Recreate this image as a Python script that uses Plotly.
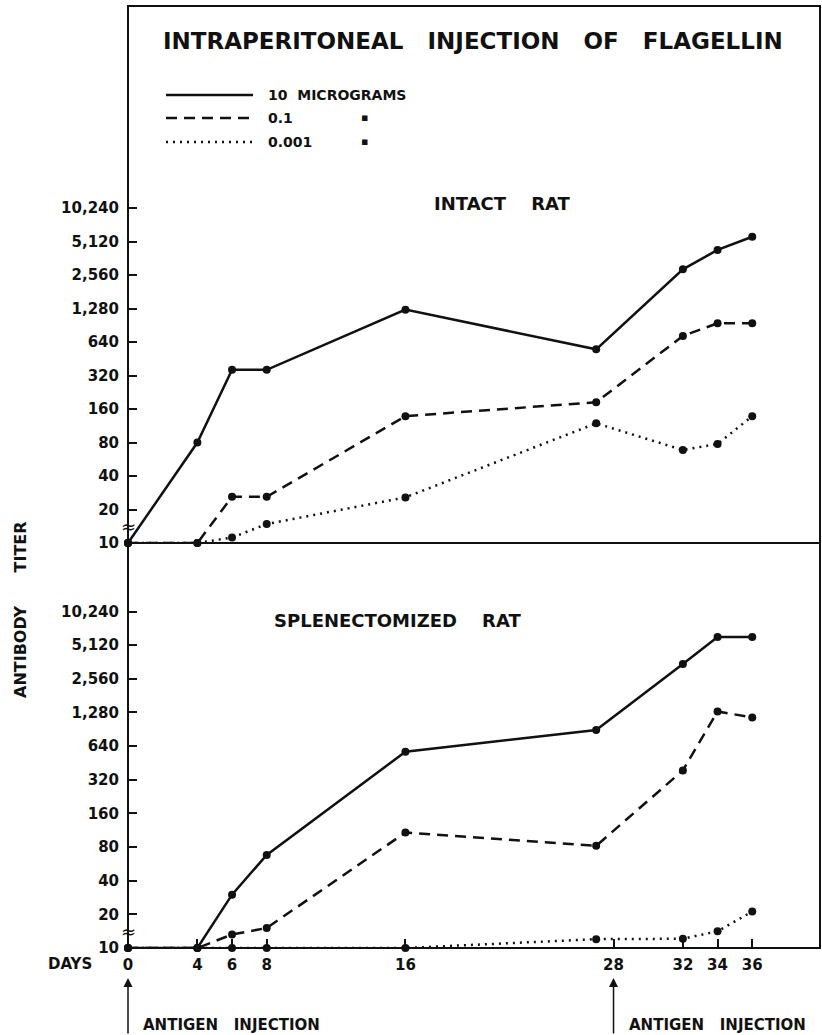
import plotly.graph_objects as go

# ---------------- data ----------------
days = [0, 4, 6, 8, 16, 27, 32, 34, 36]

intact_10ug = [10, 80, 360, 360, 1250, 550, 2880, 4300, 5650]
intact_01ug = [10, 10, 26, 26, 138, 184, 725, 943, 943]
intact_0001ug = [10, 10, 11.2, 14.8, 25.7, 119, 68.5, 77.6, 138]

splen_10ug = [10, 10, 30, 68, 570, 893, 3470, 6050, 6050]
splen_01ug = [10, 10, 13.2, 15.1, 108, 82, 388, 1307, 1155]
splen_0001ug = [10, 10, 10, 10, 10, 12.0, 12.1, 14.1, 21.2]

y_tickvals = [10, 20, 40, 80, 160, 320, 640, 1280, 2560, 5120, 10240]
y_ticktext = ["10", "20", "40", "80", "160", "320", "640", "1,280", "2,560", "5,120", "10,240"]
x_tickvals = [0, 4, 6, 8, 16, 28, 32, 34, 36]
x_ticktext = ["0", "4", "6", "8", "16", "28", "32", "34", "36"]

dose_labels = ["10  MICROGRAMS", "0.1", "0.001"]
injection_days = [0, 28]

# ---------------- styling ----------------
W, H = 822, 1035
L, R, T, B = 128, 2, 6, 87
PW, PH = W - L - R, H - T - B
SPLIT = 405 / PH            # paper fraction of lower panel
FONT = "DejaVu Sans"
BLACK = "#111111"
dashes = ["solid", "11px,7px", "2px,5px"]
NB = "\u00a0"

fig = go.Figure()

panels = [
    ("x2", "y2", [intact_10ug, intact_01ug, intact_0001ug]),
    ("x", "y", [splen_10ug, splen_01ug, splen_0001ug]),
]
for xa, ya, series in panels:
    for vals, dash, name in zip(series, dashes, dose_labels):
        fig.add_trace(go.Scatter(
            x=days, y=vals, xaxis=xa, yaxis=ya, name=name,
            mode="lines+markers",
            line=dict(color=BLACK, width=2.5, dash=dash),
            marker=dict(color=BLACK, size=8, symbol="circle"),
            cliponaxis=False, showlegend=False,
        ))

def px_x(px):
    return (px - L) / PW

def px_y(px):
    return (H - B - px) / PH

xmax = PW / 17.34
axis_common = dict(showgrid=False, zeroline=False, showline=False)
tickfont = dict(size=15, family=FONT, color=BLACK, weight="bold")

fig.update_layout(
    width=W, height=H,
    margin=dict(l=L, r=R, t=T, b=B),
    paper_bgcolor="white", plot_bgcolor="white",
    font=dict(family=FONT, color=BLACK),
    xaxis=dict(domain=[0, 1], anchor="y", range=[0, xmax],
               tickvals=x_tickvals, ticktext=x_ticktext,
               ticks="inside", ticklen=9, tickwidth=2, tickcolor=BLACK,
               tickfont=tickfont, ticklabelstandoff=6, **axis_common),
    xaxis2=dict(domain=[0, 1], anchor="y2", range=[0, xmax], matches="x",
                showticklabels=False, ticks="", **axis_common),
    yaxis=dict(domain=[0, SPLIT], anchor="x", type="log",
               range=[1, 1 + (405 / 33.65) * 0.30103],
               tickvals=y_tickvals, ticktext=y_ticktext,
               ticks="inside", ticklen=9, tickwidth=2, tickcolor=BLACK,
               tickfont=tickfont, ticklabelstandoff=8, **axis_common),
    yaxis2=dict(domain=[SPLIT, 1], anchor="x2", type="log",
                range=[1, 1 + (537 / 33.5) * 0.30103],
                tickvals=y_tickvals, ticktext=y_ticktext,
                ticks="inside", ticklen=9, tickwidth=2, tickcolor=BLACK,
                tickfont=tickfont, ticklabelstandoff=8, **axis_common),
)

shapes = [
    dict(type="rect", xref="paper", yref="paper", x0=0, y0=0, x1=1, y1=1,
         line=dict(color=BLACK, width=2)),
    dict(type="line", xref="paper", yref="paper", x0=0, x1=1, y0=SPLIT, y1=SPLIT,
         line=dict(color=BLACK, width=2)),
]
# manual legend samples
legend_rows = [95, 118, 142]
for row, dash in zip(legend_rows, dashes):
    shapes.append(dict(type="line", xref="paper", yref="paper",
                       x0=px_x(166), x1=px_x(253), y0=px_y(row), y1=px_y(row),
                       line=dict(color=BLACK, width=2.5, dash=dash)))
fig.update_layout(shapes=shapes)

def note(text, xpx, ypx, size, xanchor="center", bold=True, **kw):
    return dict(text=text, xref="paper", yref="paper", x=px_x(xpx), y=px_y(ypx),
                xanchor=xanchor, yanchor="middle", showarrow=False,
                font=dict(size=size, family=FONT, color=BLACK,
                          weight="bold" if bold else "normal"), **kw)

sp3 = NB * 3
ann = []
ann.append(note(sp3.join(["INTRAPERITONEAL", "INJECTION", "OF", "FLAGELLIN"]),
                473, 41, 23))
for row, lab in zip(legend_rows, dose_labels):
    ann.append(note(lab.replace(" ", NB), 266, row, 14, xanchor="left"))
for row in legend_rows[1:]:
    ann.append(note("▪", 364, row, 11))
ann.append(note("INTACT" + NB * 4 + "RAT", 502, 204, 18))
ann.append(note("SPLENECTOMIZED" + NB * 4 + "RAT", 397, 620, 18))
ann.append(note("ANTIBODY" + NB * 6 + "TITER", 20, 610, 16, textangle=-90))
ann.append(note("DAYS", 70, 964, 15))
# axis break marks
for ypx in [526, 931]:
    ann.append(note("≈", L, ypx, 18, bold=False))
# antigen injection arrows
for d in injection_days:
    ann.append(dict(text="", x=d, xref="x", y=px_y(978), yref="paper",
                    ax=0, ay=57, showarrow=True, arrowhead=2, arrowsize=1.2,
                    arrowwidth=1.5, arrowcolor=BLACK))
    ann.append(dict(text="ANTIGEN" + sp3 + "INJECTION", x=d, xref="x", y=px_y(1025),
                    yref="paper", xanchor="left", yanchor="middle", xshift=13,
                    showarrow=False,
                    font=dict(size=15, family=FONT, color=BLACK, weight="bold")))
fig.update_layout(annotations=ann)

fig.write_html("out.html")
